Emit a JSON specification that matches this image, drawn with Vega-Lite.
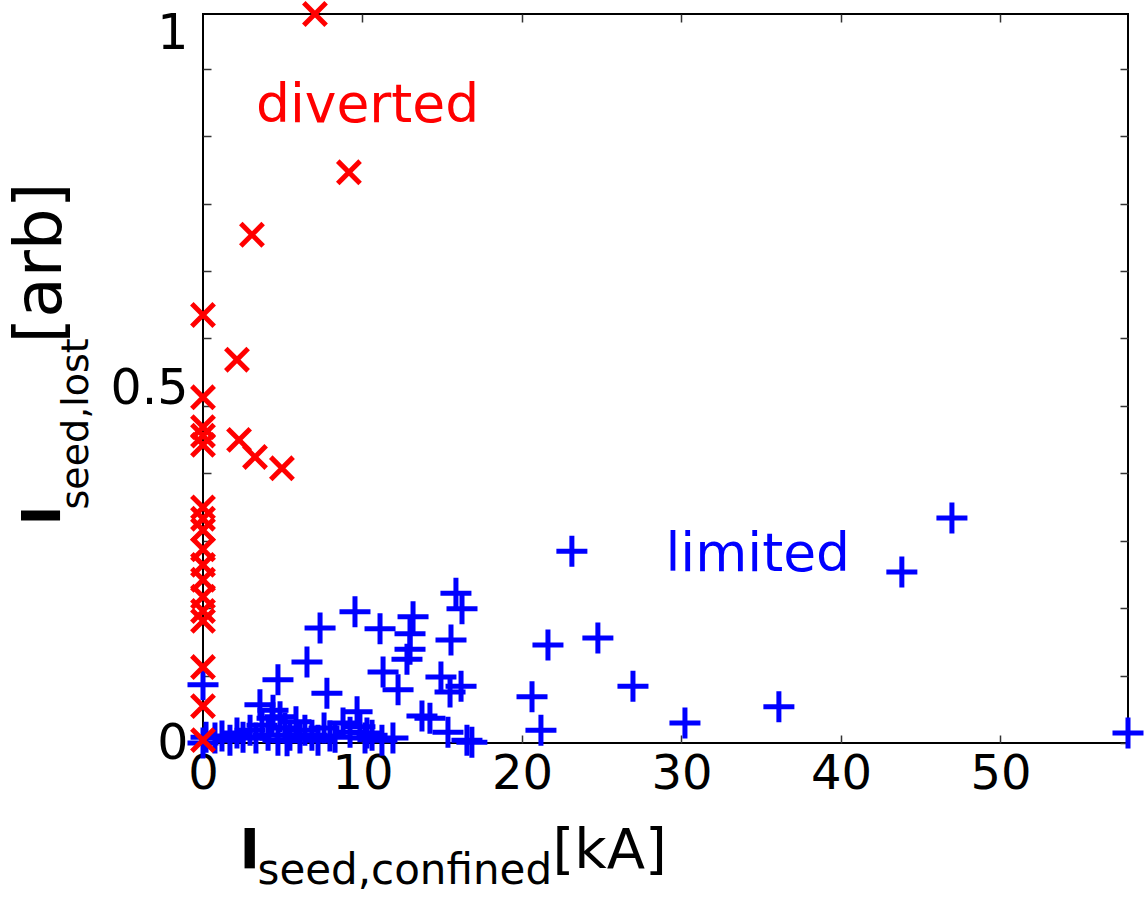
{
  "$schema": "https://vega.github.io/schema/vega-lite/v6.json",
  "width": 925,
  "height": 729,
  "autosize": {"type": "none"},
  "padding": {"left": 203, "top": 14, "right": 18, "bottom": 154},
  "background": "white",
  "config": {
    "view": {"stroke": "#000000", "strokeWidth": 2},
    "font": "DejaVu Sans",
    "axis": {"grid": false, "domain": false, "labelFont": "DejaVu Sans", "titleFont": "DejaVu Sans", "labelColor": "#000000", "titleColor": "#000000", "tickColor": "#333333", "tickWidth": 1.5}
  },
  "datasets": {
    "pts": [
      {"x": 58.0, "y": 0.014, "group": "limited"},
      {"x": 46.96, "y": 0.317, "group": "limited"},
      {"x": 43.82, "y": 0.241, "group": "limited"},
      {"x": 36.11, "y": 0.051, "group": "limited"},
      {"x": 30.22, "y": 0.028, "group": "limited"},
      {"x": 26.96, "y": 0.080, "group": "limited"},
      {"x": 24.76, "y": 0.148, "group": "limited"},
      {"x": 23.13, "y": 0.270, "group": "limited"},
      {"x": 21.63, "y": 0.138, "group": "limited"},
      {"x": 20.63, "y": 0.065, "group": "limited"},
      {"x": 21.19, "y": 0.018, "group": "limited"},
      {"x": 15.86, "y": 0.211, "group": "limited"},
      {"x": 16.24, "y": 0.189, "group": "limited"},
      {"x": 9.53, "y": 0.185, "group": "limited"},
      {"x": 11.10, "y": 0.161, "group": "limited"},
      {"x": 13.17, "y": 0.178, "group": "limited"},
      {"x": 12.98, "y": 0.154, "group": "limited"},
      {"x": 15.55, "y": 0.145, "group": "limited"},
      {"x": 12.98, "y": 0.132, "group": "limited"},
      {"x": 12.79, "y": 0.118, "group": "limited"},
      {"x": 11.29, "y": 0.100, "group": "limited"},
      {"x": 14.92, "y": 0.093, "group": "limited"},
      {"x": 12.23, "y": 0.075, "group": "limited"},
      {"x": 16.18, "y": 0.080, "group": "limited"},
      {"x": 15.49, "y": 0.072, "group": "limited"},
      {"x": 7.34, "y": 0.162, "group": "limited"},
      {"x": 6.52, "y": 0.114, "group": "limited"},
      {"x": 4.70, "y": 0.089, "group": "limited"},
      {"x": 7.77, "y": 0.070, "group": "limited"},
      {"x": 3.57, "y": 0.054, "group": "limited"},
      {"x": 9.66, "y": 0.044, "group": "limited"},
      {"x": 13.73, "y": 0.038, "group": "limited"},
      {"x": 14.23, "y": 0.035, "group": "limited"},
      {"x": 15.36, "y": 0.015, "group": "limited"},
      {"x": 16.55, "y": 0.004, "group": "limited"},
      {"x": 16.86, "y": 0.001, "group": "limited"},
      {"x": 11.22, "y": 0.004, "group": "limited"},
      {"x": 11.91, "y": 0.007, "group": "limited"},
      {"x": 10.16, "y": 0.007, "group": "limited"},
      {"x": 8.78, "y": 0.028, "group": "limited"},
      {"x": 10.28, "y": 0.014, "group": "limited"},
      {"x": 8.28, "y": 0.008, "group": "limited"},
      {"x": 0.0, "y": 0.082, "group": "limited"},
      {"x": 0.19, "y": 0.008, "group": "limited"},
      {"x": 0.0, "y": 0.0, "group": "limited"},
      {"x": 4.39, "y": 0.046, "group": "limited"},
      {"x": 4.83, "y": 0.037, "group": "limited"},
      {"x": 0.75, "y": 0.007, "group": "limited"},
      {"x": 1.19, "y": 0.010, "group": "limited"},
      {"x": 1.69, "y": 0.004, "group": "limited"},
      {"x": 2.13, "y": 0.014, "group": "limited"},
      {"x": 2.51, "y": 0.008, "group": "limited"},
      {"x": 2.95, "y": 0.018, "group": "limited"},
      {"x": 3.32, "y": 0.007, "group": "limited"},
      {"x": 3.70, "y": 0.025, "group": "limited"},
      {"x": 4.08, "y": 0.011, "group": "limited"},
      {"x": 4.33, "y": 0.035, "group": "limited"},
      {"x": 5.14, "y": 0.021, "group": "limited"},
      {"x": 5.45, "y": 0.011, "group": "limited"},
      {"x": 5.83, "y": 0.030, "group": "limited"},
      {"x": 6.08, "y": 0.007, "group": "limited"},
      {"x": 6.39, "y": 0.018, "group": "limited"},
      {"x": 6.83, "y": 0.011, "group": "limited"},
      {"x": 7.21, "y": 0.004, "group": "limited"},
      {"x": 7.59, "y": 0.021, "group": "limited"},
      {"x": 7.96, "y": 0.010, "group": "limited"},
      {"x": 9.22, "y": 0.015, "group": "limited"},
      {"x": 9.84, "y": 0.023, "group": "limited"},
      {"x": 10.60, "y": 0.011, "group": "limited"},
      {"x": 4.70, "y": 0.004, "group": "limited"},
      {"x": 5.27, "y": 0.003, "group": "limited"},
      {"x": 7.02, "y": 1.027, "group": "diverted"},
      {"x": 9.15, "y": 0.804, "group": "diverted"},
      {"x": 3.07, "y": 0.716, "group": "diverted"},
      {"x": 0.0, "y": 0.603, "group": "diverted"},
      {"x": 2.13, "y": 0.540, "group": "diverted"},
      {"x": 0.0, "y": 0.487, "group": "diverted"},
      {"x": 0.0, "y": 0.445, "group": "diverted"},
      {"x": 0.0, "y": 0.433, "group": "diverted"},
      {"x": 0.0, "y": 0.420, "group": "diverted"},
      {"x": 2.26, "y": 0.427, "group": "diverted"},
      {"x": 3.26, "y": 0.403, "group": "diverted"},
      {"x": 4.95, "y": 0.387, "group": "diverted"},
      {"x": 0.0, "y": 0.332, "group": "diverted"},
      {"x": 0.0, "y": 0.316, "group": "diverted"},
      {"x": 0.0, "y": 0.300, "group": "diverted"},
      {"x": 0.0, "y": 0.273, "group": "diverted"},
      {"x": 0.0, "y": 0.251, "group": "diverted"},
      {"x": 0.0, "y": 0.230, "group": "diverted"},
      {"x": 0.0, "y": 0.206, "group": "diverted"},
      {"x": 0.0, "y": 0.186, "group": "diverted"},
      {"x": 0.0, "y": 0.172, "group": "diverted"},
      {"x": 0.0, "y": 0.107, "group": "diverted"},
      {"x": 0.0, "y": 0.052, "group": "diverted"},
      {"x": 0.0, "y": 0.004, "group": "diverted"}
    ]
  },
  "layer": [
    {
      "data": {"name": "pts"},
      "mark": {"type": "point", "filled": false, "strokeWidth": 5, "opacity": 1, "clip": false},
      "encoding": {
        "x": {
          "field": "x", "type": "quantitative",
          "scale": {"domain": [0, 58], "nice": false, "zero": false},
          "axis": {
            "orient": "bottom", "values": [0, 10, 20, 30, 40, 50], "format": "d",
            "tickSize": -8, "labelFontSize": 48, "labelPadding": 15, "labelFlush": false, "labelOverlap": false,
            "title": "I", "titleFontSize": 55, "titleFontWeight": "bold", "titleX": 36, "titleY": 124,
            "titleAlign": "left", "titleBaseline": "alphabetic", "titleAngle": 0
          }
        },
        "y": {
          "field": "y", "type": "quantitative",
          "scale": {"domain": [0, 1.027], "nice": false, "zero": false},
          "axis": {
            "orient": "left",
            "values": [0, 0.095, 0.19, 0.285, 0.38, 0.475, 0.5, 0.57, 0.665, 0.76, 0.855, 0.95, 1],
            "labelExpr": "datum.value == 0 ? '0' : datum.value == 0.5 ? '0.5' : datum.value == 1 ? '1' : ''",
            "tickSize": -8,
            "tickOpacity": {"condition": {"test": "datum.value == 0.5 || datum.value == 1", "value": 0}, "value": 1},
            "labelFontSize": 49, "labelPadding": 23, "labelOverlap": false, "labelFlush": false,
            "title": "I", "titleFontSize": 54, "titleFontWeight": "bold", "titleX": -144, "titleY": 511,
            "titleAlign": "left", "titleBaseline": "alphabetic", "titleAngle": -90
          }
        },
        "color": {"field": "group", "type": "nominal", "scale": {"domain": ["limited", "diverted"], "range": ["#0000ff", "#ff0000"]}, "legend": null},
        "shape": {"field": "group", "type": "nominal", "scale": {"domain": ["limited", "diverted"], "range": ["M-1,0L1,0M0,-1L0,1", "M-1,-1L1,1M-1,1L1,-1"]}, "legend": null},
        "size": {"field": "group", "type": "nominal", "scale": {"domain": ["limited", "diverted"], "range": [961, 500]}, "legend": null}
      }
    },
    {
      "data": {"values": [{"label": "diverted"}]},
      "mark": {"type": "text", "align": "left", "baseline": "alphabetic", "fontSize": 53.5, "font": "DejaVu Sans", "color": "#ff0000"},
      "encoding": {
        "x": {
          "datum": 3.32, "type": "quantitative",
          "scale": {"domain": [0, 58], "nice": false, "zero": false},
          "axis": {
            "orient": "top", "values": [10, 20, 30, 40, 50], "labels": false, "tickSize": -8,
            "title": "[kA]", "titleFontSize": 56, "titleFontWeight": "normal", "titleX": 349, "titleY": 853,
            "titleAlign": "left", "titleBaseline": "alphabetic", "titleAngle": 0
          }
        },
        "y": {
          "datum": 0.875, "type": "quantitative",
          "scale": {"domain": [0, 1.027], "nice": false, "zero": false},
          "axis": {
            "orient": "right",
            "values": [0, 0.095, 0.19, 0.285, 0.38, 0.475, 0.57, 0.665, 0.76, 0.855, 0.95],
            "labels": false, "tickSize": -8,
            "title": "[arb]", "titleFontSize": 66, "titleFontWeight": "normal", "titleX": -1068, "titleY": 329,
            "titleAlign": "left", "titleBaseline": "alphabetic", "titleAngle": -90
          }
        },
        "text": {"field": "label"}
      }
    },
    {
      "data": {"values": [{"label": "limited"}]},
      "mark": {"type": "text", "align": "left", "baseline": "alphabetic", "fontSize": 53.5, "font": "DejaVu Sans", "color": "#0000ff"},
      "encoding": {
        "x": {
          "datum": 29.0, "type": "quantitative",
          "scale": {"domain": [0, 58], "nice": false, "zero": false},
          "axis": {
            "orient": "bottom", "labels": false, "ticks": false,
            "title": "seed,confined", "titleFontSize": 42, "titleFontWeight": "normal", "titleX": 54, "titleY": 140,
            "titleAlign": "left", "titleBaseline": "alphabetic", "titleAngle": 0
          }
        },
        "y": {
          "datum": 0.242, "type": "quantitative",
          "scale": {"domain": [0, 1.027], "nice": false, "zero": false},
          "axis": {
            "orient": "left", "labels": false, "ticks": false,
            "title": "seed,lost", "titleFontSize": 38, "titleFontWeight": "normal", "titleX": -116, "titleY": 495,
            "titleAlign": "left", "titleBaseline": "alphabetic", "titleAngle": -90
          }
        },
        "text": {"field": "label"}
      }
    }
  ],
  "resolve": {"axis": {"x": "independent", "y": "independent"}}
}
